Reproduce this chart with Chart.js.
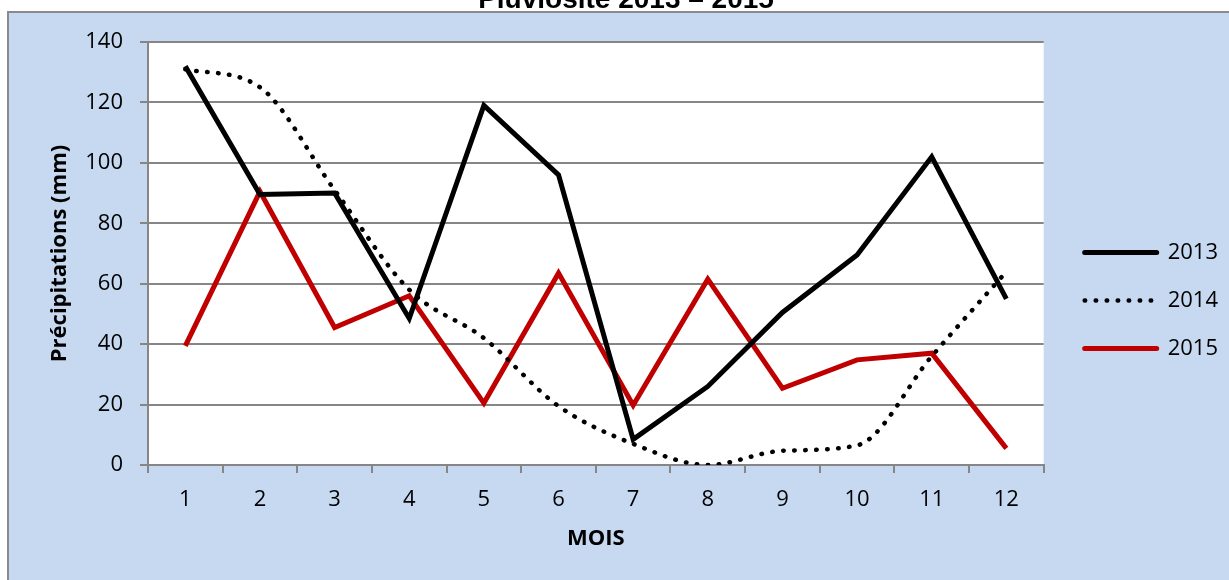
<!DOCTYPE html>
<html>
<head>
<meta charset="utf-8">
<script src="https://cdn.jsdelivr.net/npm/chart.js@4.4.1/dist/chart.umd.min.js"></script>
<style>
  html, body { margin: 0; padding: 0; background: #fff; overflow: hidden; }
  #wrap { position: relative; width: 1229px; height: 580px; }
  #title {
    position: absolute; top: -15px; left: 626px; transform: translateX(-50%);
    font: bold 28px/28px "Liberation Sans", sans-serif; white-space: nowrap; color: #000; z-index: 2;
  }
  canvas { position: absolute; left: 0; top: 0; }
</style>
</head>
<body>
<div id="wrap">
  <div id="title">Pluviosité 2013 – 2015</div>
  <canvas id="pluvio" width="1229" height="580"></canvas>
</div>
<script>
const mois = ['1', '2', '3', '4', '5', '6', '7', '8', '9', '10', '11', '12'];
const pluie2013 = [132, 89.5, 90, 48.5, 119, 96, 8.5, 26, 50.5, 69.5, 102, 55];
const pluie2014 = [131, 125, 91, 58, 42, 19.5, 7, 0, 4.7, 6.5, 36, 64];
const pluie2015 = [39.4, 90.5, 45.5, 56, 20.5, 63.5, 19.8, 61.5, 25.4, 34.8, 37, 5.5];

const grisAxe = '#868686';

// fond bleu du graphique + zone de tracé blanche
const fondExcel = {
  id: 'fondExcel',
  beforeDraw(chart) {
    const ctx = chart.ctx;
    const a = chart.chartArea;
    ctx.save();
    ctx.fillStyle = '#ffffff';
    ctx.fillRect(0, 0, chart.width, chart.height);
    ctx.fillStyle = '#c6d9f1';
    ctx.fillRect(8, 12, chart.width, chart.height);
    ctx.strokeStyle = '#8a8a8a';
    ctx.lineWidth = 2;
    ctx.strokeRect(8, 12, chart.width + 10, chart.height + 10);
    ctx.fillStyle = '#ffffff';
    ctx.fillRect(a.left, a.top, a.right - a.left, a.bottom - a.top);
    ctx.restore();
  }
};

Chart.defaults.font.family = '"Open Sans", sans-serif';
Chart.defaults.font.size = 22;
Chart.defaults.color = '#000';

new Chart(document.getElementById('pluvio'), {
  type: 'line',
  data: {
    labels: mois,
    datasets: [
      {
        label: '2013',
        data: pluie2013,
        borderColor: '#000000',
        borderWidth: 5,
        tension: 0,
        pointRadius: 0
      },
      {
        label: '2014',
        data: pluie2014,
        borderColor: '#000000',
        borderWidth: 4.5,
        borderDash: [0.5, 10.5],
        borderCapStyle: 'round',
        cubicInterpolationMode: 'monotone',
        pointRadius: 0
      },
      {
        label: '2015',
        data: pluie2015,
        borderColor: '#c00000',
        borderWidth: 5,
        tension: 0,
        pointRadius: 0
      }
    ]
  },
  options: {
    responsive: false,
    animation: false,
    layout: { padding: { left: 40, top: 42, right: 1, bottom: 28 } },
    plugins: {
      title: { display: false },
      tooltip: { enabled: false },
      legend: {
        position: 'right',
        title: { display: true, text: ' ', font: { size: 6 }, padding: 0 },
        labels: {
          usePointStyle: true,
          pointStyleWidth: 72,
          padding: 26,
          font: { size: 22 },
          generateLabels: chart => chart.data.datasets.map((ds, i) => ({
            text: ds.label,
            strokeStyle: ds.borderColor,
            fillStyle: ds.borderColor,
            lineWidth: ds.borderWidth,
            lineDash: ds.borderDash || [],
            lineCap: 'round',
            pointStyle: 'line',
            fontColor: '#000',
            hidden: false,
            datasetIndex: i
          }))
        }
      }
    },
    scales: {
      x: {
        offset: true,
        grid: {
          offset: true,
          drawOnChartArea: false,
          color: grisAxe,
          lineWidth: 2,
          tickLength: 8
        },
        border: { color: grisAxe, width: 2 },
        ticks: { padding: 14, font: { size: 22 } },
        title: {
          display: true,
          text: 'MOIS',
          font: { size: 22, weight: 'bold' },
          padding: { top: 0, bottom: 0 }
        },
        afterFit: s => { s.height = 87; }
      },
      y: {
        min: 0,
        max: 140,
        ticks: { stepSize: 20, padding: 17, font: { size: 22 } },
        grid: { color: grisAxe, lineWidth: 2, tickLength: 8 },
        border: { color: grisAxe, width: 2 },
        title: {
          display: true,
          text: 'Précipitations (mm)',
          font: { size: 22, weight: 'bold' },
          padding: { top: 7, bottom: 0 }
        },
        afterFit: s => { s.width = 108; }
      },
      marge: {
        type: 'linear',
        position: 'right',
        display: true,
        grid: { display: false },
        ticks: { display: false },
        border: { display: false },
        afterFit: s => { s.width = 15; }
      }
    }
  },
  plugins: [fondExcel]
});
</script>
</body>
</html>
